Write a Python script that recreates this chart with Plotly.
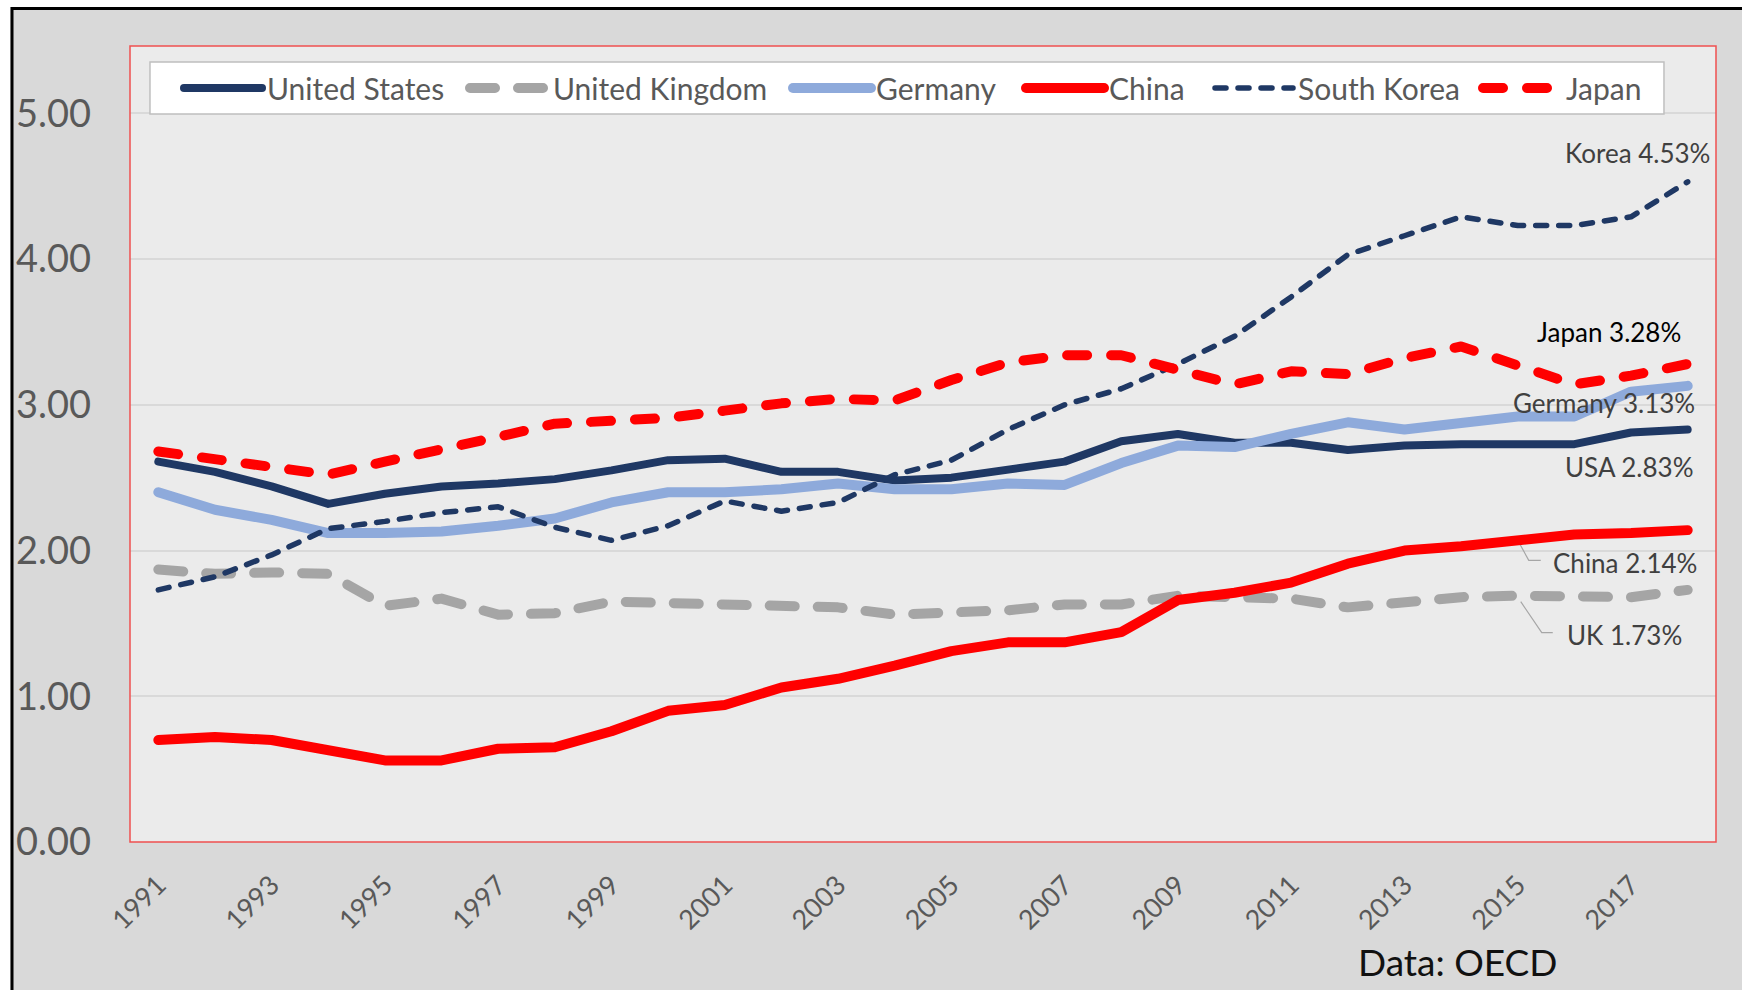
import plotly.graph_objects as go

# Gross domestic expenditure on R&D, % of GDP
years = list(range(1991, 2019))
us = [2.61, 2.54, 2.44, 2.32, 2.39, 2.44, 2.46, 2.49, 2.55, 2.62, 2.63, 2.54, 2.54, 2.48,
      2.50, 2.55, 2.61, 2.75, 2.80, 2.74, 2.74, 2.69, 2.72, 2.73, 2.73, 2.73, 2.81, 2.83]
uk = [1.87, 1.84, 1.85, 1.84, 1.62, 1.67, 1.56, 1.57, 1.65, 1.64, 1.63, 1.63, 1.61, 1.56,
      1.57, 1.59, 1.63, 1.63, 1.69, 1.68, 1.67, 1.61, 1.64, 1.68, 1.69, 1.69, 1.68, 1.73]
germany = [2.40, 2.28, 2.21, 2.12, 2.12, 2.13, 2.17, 2.22, 2.33, 2.40, 2.40, 2.42, 2.46, 2.42,
           2.42, 2.46, 2.45, 2.60, 2.72, 2.71, 2.80, 2.88, 2.83, 2.88, 2.92, 2.92, 3.09, 3.13]
china = [0.70, 0.72, 0.70, 0.63, 0.56, 0.56, 0.64, 0.65, 0.76, 0.90, 0.94, 1.06, 1.12, 1.21,
         1.31, 1.37, 1.37, 1.44, 1.66, 1.71, 1.78, 1.91, 2.00, 2.03, 2.07, 2.11, 2.12, 2.14]
korea = [1.73, 1.82, 1.97, 2.15, 2.20, 2.26, 2.30, 2.16, 2.07, 2.17, 2.34, 2.27, 2.33, 2.52,
         2.62, 2.83, 3.00, 3.11, 3.28, 3.47, 3.74, 4.03, 4.16, 4.29, 4.23, 4.23, 4.29, 4.53]
japan = [2.68, 2.63, 2.57, 2.52, 2.61, 2.69, 2.78, 2.87, 2.89, 2.91, 2.96, 3.01, 3.04, 3.03,
         3.17, 3.29, 3.34, 3.34, 3.24, 3.14, 3.23, 3.21, 3.32, 3.40, 3.27, 3.14, 3.20, 3.28]

tick_years = list(range(1991, 2018, 2))
tick_text = [str(y) for y in tick_years]
y_ticks = [0, 1, 2, 3, 4, 5]
y_tick_text = [f"{v:.2f}" for v in y_ticks]

FONT = "Lato"
GREY_TXT = "#595959"

series = [
    # name, values, colour, width, dash, legend entry width
    ("United States", us, "#1f3864", 8, "solid", 193),
    ("United Kingdom", uk, "#a5a5a5", 10, "25px,23px", 230),
    ("Germany", germany, "#8eaadb", 10, "solid", 140),
    ("China", china, "#ff0000", 10, "solid", 96),
    ("South Korea", korea, "#1f3864", 5.5, "11px,12px", 175),
    ("Japan", japan, "#ff0000", 10, "20px,24px", 80),
]

fig = go.Figure()
for name, vals, color, width, dash, lw in series:
    fig.add_trace(go.Scatter(
        x=years, y=vals, name=name, mode="lines",
        line=dict(color=color, width=width, dash=dash),
        legendwidth=lw, hoverinfo="skip",
    ))

# end-of-line value labels, positioned relative to each series' 2018 point
end_labels = [
    ("Korea", korea, -50.5, 28.5, "center", "#404040"),
    ("Japan", japan, -78.5, 32, "center", "#000000"),
    ("Germany", germany, -83.5, -16.7, "center", "#404040"),
    ("USA", us, -58, -37.3, "center", "#404040"),
    ("China", china, -136.3, -33.3, "left", "#404040"),
    ("UK", uk, -123, -45.2, "left", "#404040"),
]
annotations = []
for label, vals, dx, dy, anchor, color in end_labels:
    annotations.append(dict(
        x=years[-1], y=vals[-1], xref="x", yref="y",
        text=f"{label} {vals[-1]:.2f}%", showarrow=False,
        xanchor=anchor, yanchor="middle", xshift=dx, yshift=dy,
        font=dict(family=FONT, size=26, color=color),
    ))

annotations.append(dict(
    x=0.8373, y=-0.1495, xref="paper", yref="paper", text="Data: OECD",
    showarrow=False, xanchor="center", yanchor="middle",
    font=dict(family=FONT, size=37, color="#111111"),
))

i2015 = years.index(2015)
shapes = [
    # white margin and black frame around the chart area
    dict(type="rect", xref="paper", yref="paper", x0=-0.1, x1=-0.0754, y0=-0.3, y1=1.2,
         fillcolor="white", line=dict(width=0), layer="below"),
    dict(type="rect", xref="paper", yref="paper", x0=-0.1, x1=1.1, y0=1.049, y1=1.2,
         fillcolor="white", line=dict(width=0), layer="below"),
    dict(type="line", xref="paper", yref="paper", x0=-0.0744, x1=1.1, y0=1.0471, y1=1.0471,
         line=dict(color="black", width=3)),
    dict(type="line", xref="paper", yref="paper", x0=-0.0744, x1=-0.0744, y0=-0.3, y1=1.049,
         line=dict(color="black", width=3)),
    # plot-area border
    dict(type="rect", xref="paper", yref="paper", x0=0, x1=1, y0=0, y1=1,
         line=dict(color="#f05050", width=1.5), layer="above"),
    # legend box
    dict(type="rect", xref="paper", yref="paper", x0=0.0126, x1=0.9672, y0=0.9146, y1=0.9799,
         fillcolor="white", line=dict(color="#bfbfbf", width=1.5), layer="above"),
    # leader lines for the China and UK labels
    dict(type="path", xref="x", yref="y", xsizemode="pixel", ysizemode="pixel",
         xanchor=2015, yanchor=china[i2015], path="M0,0 L11,-20 L23,-20",
         line=dict(color="#a6a6a6", width=1.2), layer="between"),
    dict(type="path", xref="x", yref="y", xsizemode="pixel", ysizemode="pixel",
         xanchor=2015, yanchor=uk[i2015], path="M3,-6 L24,-37 L35,-37",
         line=dict(color="#a6a6a6", width=1.2), layer="between"),
]

fig.update_layout(
    width=1742, height=990, autosize=False,
    margin=dict(l=130, r=26, t=46, b=148),
    paper_bgcolor="#d9d9d9", plot_bgcolor="#ebebeb",
    font=dict(family=FONT, color=GREY_TXT),
    showlegend=True,
    legend=dict(
        orientation="h", x=0.0309, y=0.9472, xanchor="left", yanchor="middle",
        bgcolor="rgba(0,0,0,0)", borderwidth=0, itemwidth=78,
        font=dict(family=FONT, size=30, color=GREY_TXT),
        traceorder="normal",
    ),
    xaxis=dict(
        range=[1990.5, 2018.5], tickmode="array", tickvals=tick_years, ticktext=tick_text,
        tickangle=-45, showgrid=False, zeroline=False, showline=False, ticks="",
        tickfont=dict(family=FONT, size=27, color=GREY_TXT), ticklabelstandoff=21,
    ),
    yaxis=dict(
        range=[0, 5.462], tickmode="array", tickvals=y_ticks, ticktext=y_tick_text,
        showgrid=True, gridcolor="#d9d9d9", gridwidth=1.5, zeroline=False, showline=False,
        ticks="", tickfont=dict(family=FONT, size=38, color=GREY_TXT), ticklabelstandoff=38,
    ),
    annotations=annotations,
    shapes=shapes,
    hovermode=False,
)

# rounded line ends and joins, re-applied after every redraw
round_caps = """
(function () {
  var gd = document.getElementById('{plot_id}');
  function roundEnds() {
    gd.querySelectorAll('.scatterlayer path.js-line, .legendlines path').forEach(function (p) {
      p.style.strokeLinecap = 'round';
      p.style.strokeLinejoin = 'round';
    });
  }
  roundEnds();
  setTimeout(roundEnds, 0);
  setTimeout(roundEnds, 200);
  if (gd.on) { gd.on('plotly_afterplot', roundEnds); }
})();
"""

fig.write_html("out.html", config={"displayModeBar": False}, post_script=round_caps)
